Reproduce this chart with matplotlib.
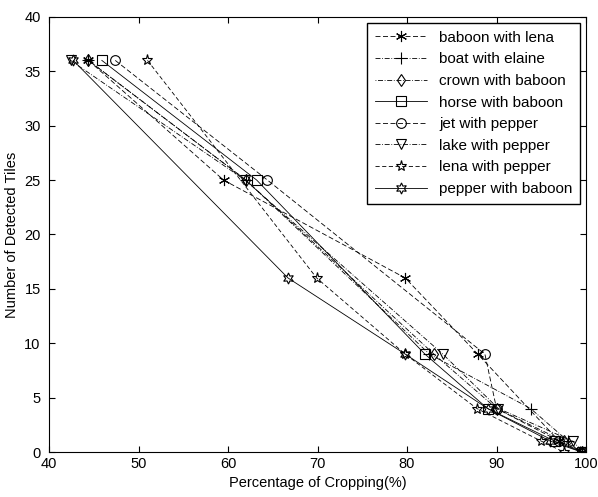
import matplotlib.pyplot as plt

plt.rcParams['font.family'] = ['Liberation Sans', 'DejaVu Sans']

labels = [
    "baboon with lena",
    "boat with elaine",
    "crown with baboon",
    "horse with baboon",
    "jet with pepper",
    "lake with pepper",
    "lena with pepper",
    "pepper with baboon",
]

# percentage of cropping (x) and detected tiles (y) per pair
x_baboon_lena = [44.4, 59.5, 79.8, 87.9, 97.0, 99.5]
y_baboon_lena = [36, 25, 16, 9, 1, 0]

x_boat_elaine = [44.4, 62.0, 82.5, 93.8, 98.0, 99.3]
y_boat_elaine = [36, 25, 9, 4, 1, 0]

x_crown_baboon = [44.4, 62.0, 83.0, 90.0, 97.5, 99.6]
y_crown_baboon = [36, 25, 9, 4, 1, 0]

x_horse_baboon = [45.9, 63.2, 82.0, 89.0, 96.5, 99.5]
y_horse_baboon = [36, 25, 9, 4, 1, 0]

x_jet_pepper = [47.4, 64.4, 88.7, 90.0, 97.0, 99.6]
y_jet_pepper = [36, 25, 9, 4, 1, 0]

x_lake_pepper = [42.4, 61.9, 84.0, 90.2, 98.5, 99.7]
y_lake_pepper = [36, 25, 9, 4, 1, 0]

x_lena_pepper = [51.0, 69.9, 79.8, 87.8, 95.0, 97.5]
y_lena_pepper = [36, 16, 9, 4, 1, 0]

x_pepper_baboon = [42.7, 66.7, 79.8, 89.0, 96.0, 99.5]
y_pepper_baboon = [36, 16, 9, 4, 1, 0]

xs = [x_baboon_lena, x_boat_elaine, x_crown_baboon, x_horse_baboon,
      x_jet_pepper, x_lake_pepper, x_lena_pepper, x_pepper_baboon]
ys = [y_baboon_lena, y_boat_elaine, y_crown_baboon, y_horse_baboon,
      y_jet_pepper, y_lake_pepper, y_lena_pepper, y_pepper_baboon]

markers = [(6, 2, 0), "+", "d", "s", "o", "v", "*", (6, 1, 0)]
styles = [(0, (6, 3)), (0, (6, 2, 1, 2)), (0, (1, 2, 6, 2)), "-",
          (0, (6, 3)), (0, (6, 2, 1, 2)), (0, (5, 3)), "-"]
sizes = [8, 9, 6, 7, 7, 7, 8, 8]

fig = plt.figure(figsize=(5.98, 4.97), dpi=100)
ax = fig.add_axes([0.082, 0.0905, 0.898, 0.8755])

for x, y, lab, m, ls, ms in zip(xs, ys, labels, markers, styles, sizes):
    ax.plot(x, y, color="black", linestyle=ls, linewidth=0.6,
            marker=m, markersize=ms, markerfacecolor="none",
            markeredgecolor="black", markeredgewidth=0.8, label=lab)

ax.set_xlim(40, 100)
ax.set_ylim(0, 40)
ax.set_xticks(range(40, 101, 10))
ax.set_yticks(range(0, 41, 5))
ax.tick_params(direction="in", top=True, right=True, labelsize=10.5, length=4)
ax.tick_params(axis="y", pad=6)
ax.set_xlabel("Percentage of Cropping(%)", fontsize=10.5)
ax.set_ylabel("Number of Detected Tiles", fontsize=10.5)

ax.legend(loc="upper right", fontsize=11, handlelength=3.4, frameon=True,
          fancybox=False, edgecolor="black", framealpha=1,
          borderaxespad=0.4, labelspacing=0.5, borderpad=0.5)

fig.savefig("out.png", dpi=100)
